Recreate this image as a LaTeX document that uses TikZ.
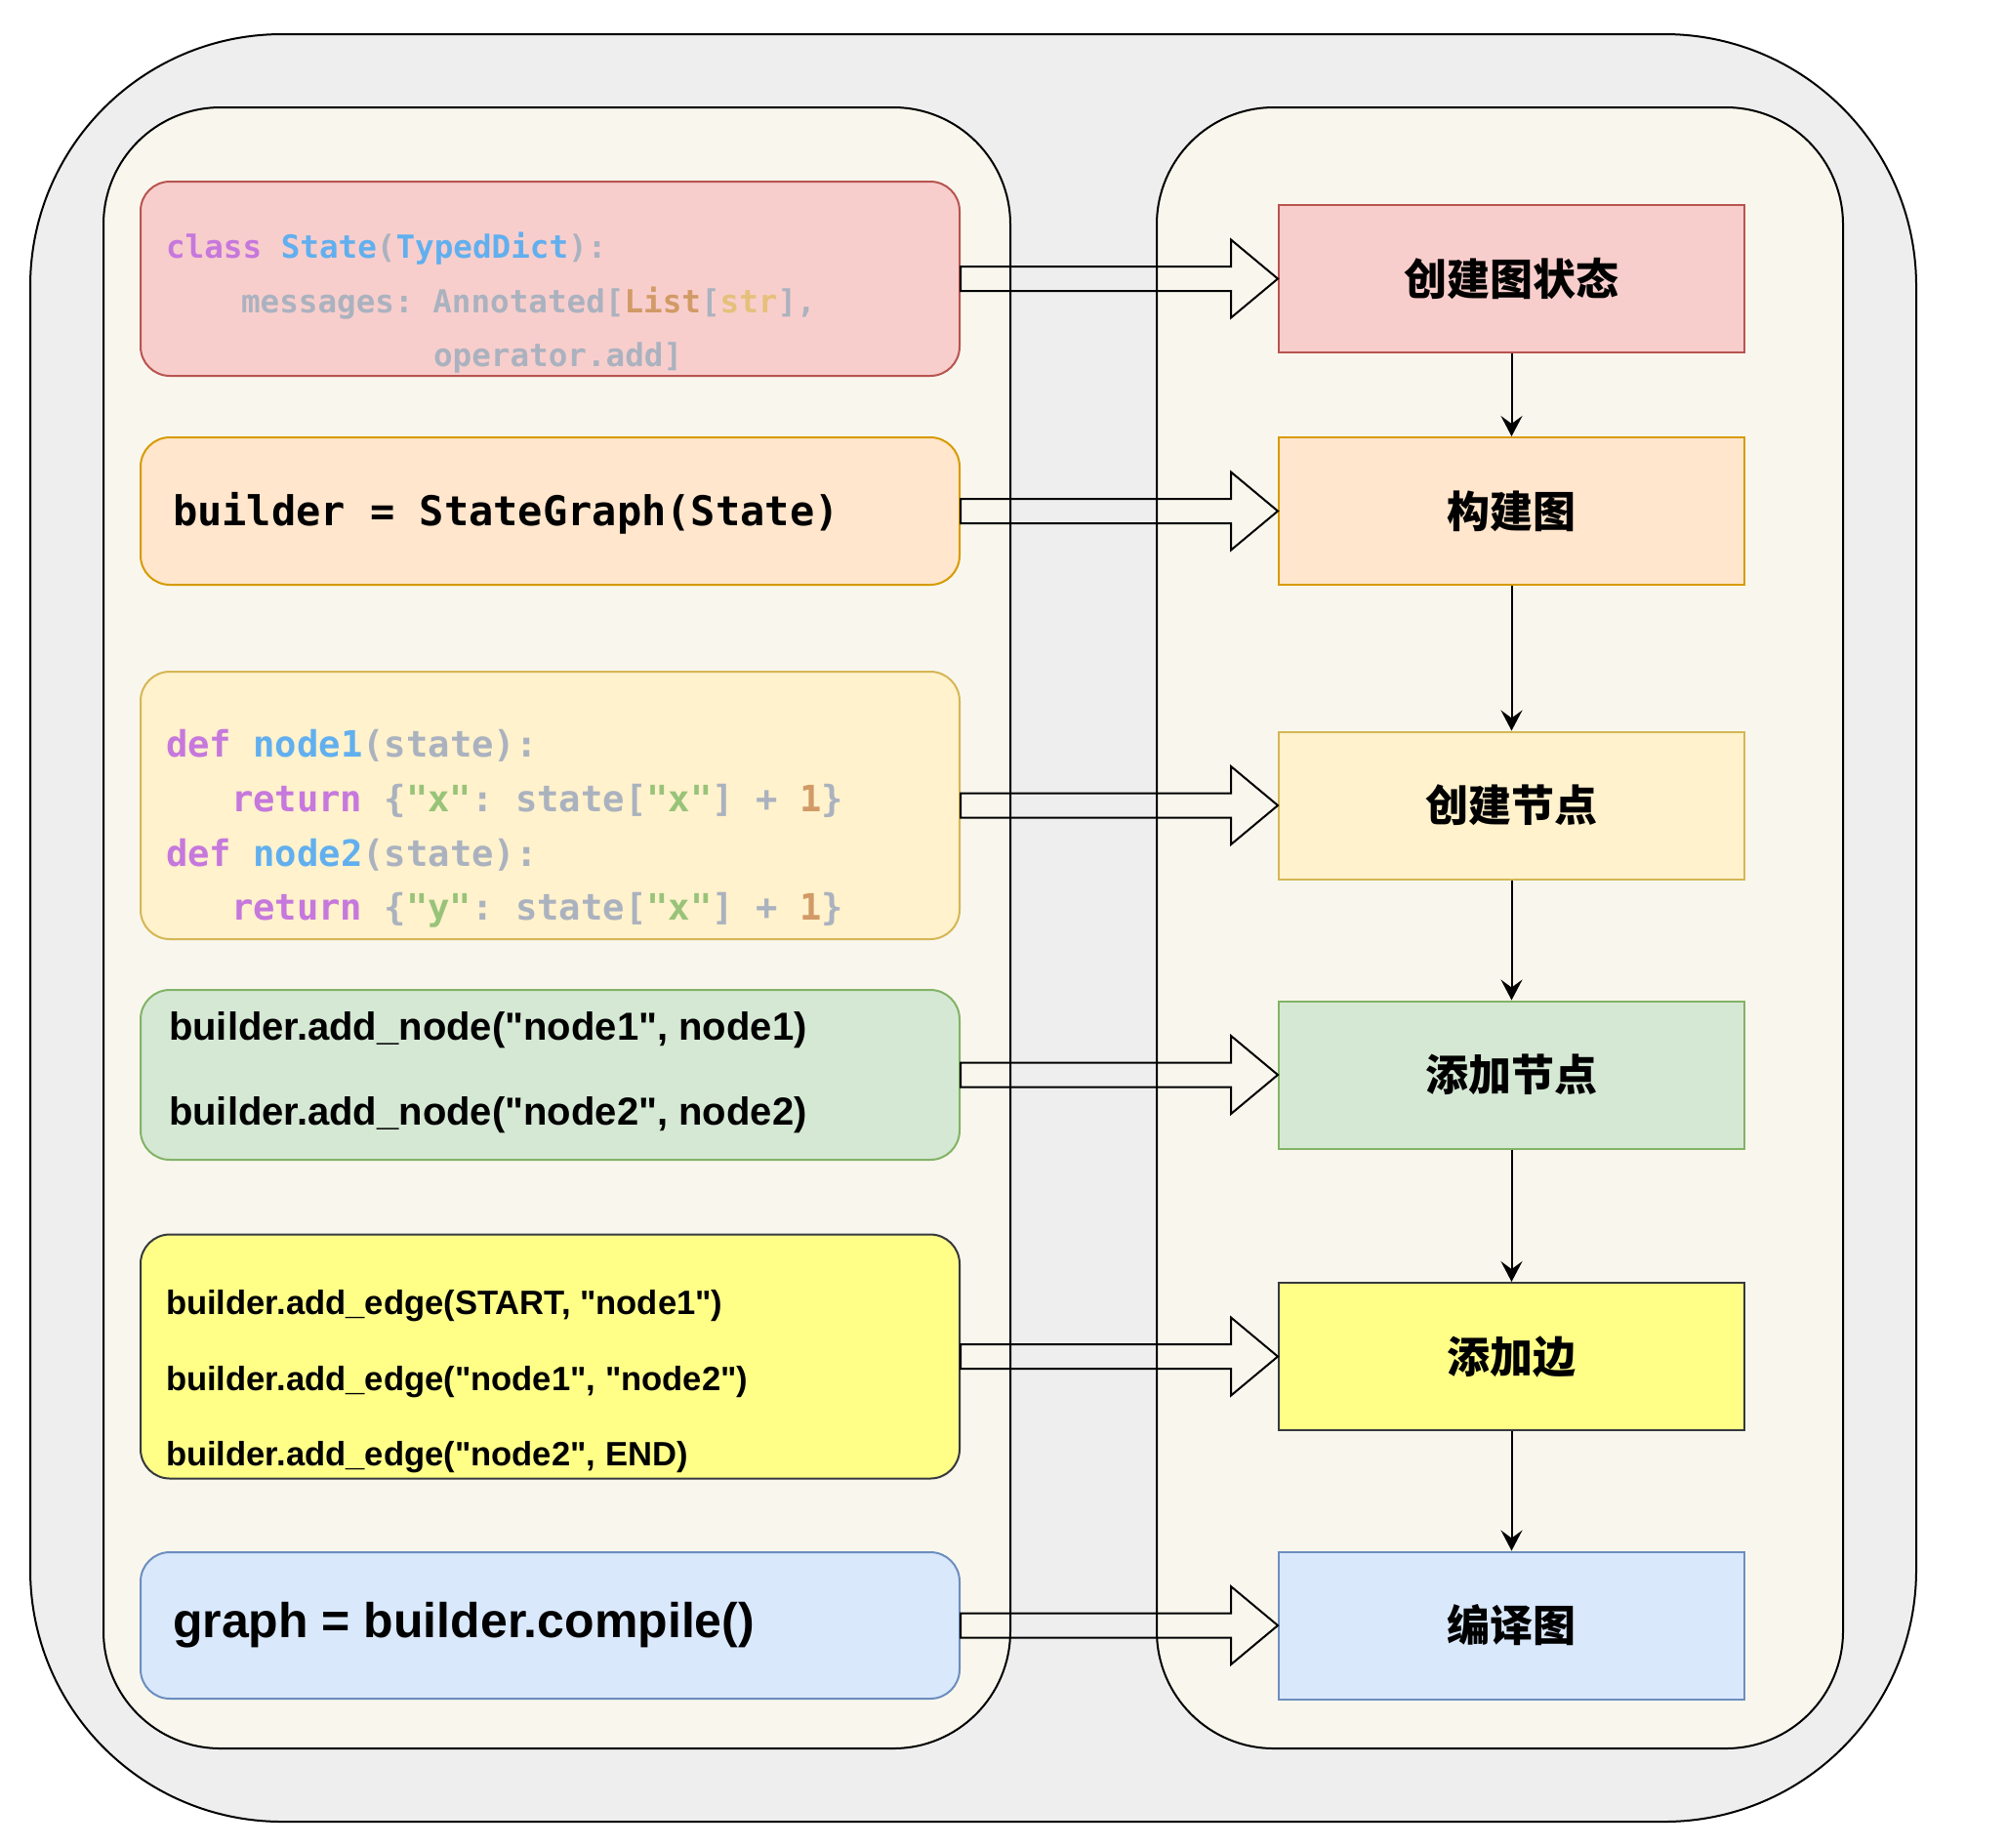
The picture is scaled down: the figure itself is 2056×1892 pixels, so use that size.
\documentclass[tikz,border=0pt]{standalone}
\usepackage{fontspec}
\newfontfamily\cjkfont{Noto Sans CJK SC}
\newfontfamily\codefont{DejaVu Sans Mono}
\newfontfamily\boldsans{Liberation Sans}
\usetikzlibrary{arrows.meta}
\frenchspacing

\definecolor{outerbg}{HTML}{EEEEEE}
\definecolor{panelbg}{HTML}{F9F7ED}
\definecolor{redfill}{HTML}{F8CECC}
\definecolor{redline}{HTML}{B85450}
\definecolor{orafill}{HTML}{FFE6CC}
\definecolor{oraline}{HTML}{D79B00}
\definecolor{ylwfill}{HTML}{FFF2CC}
\definecolor{ylwline}{HTML}{D6B656}
\definecolor{grnfill}{HTML}{D5E8D4}
\definecolor{grnline}{HTML}{82B366}
\definecolor{notefill}{HTML}{FFFF88}
\definecolor{noteline}{HTML}{36393D}
\definecolor{blufill}{HTML}{DAE8FC}
\definecolor{bluline}{HTML}{6C8EBF}
\definecolor{kwc}{HTML}{C678DD}
\definecolor{fnc}{HTML}{61AFEF}
\definecolor{gc}{HTML}{ABB2BF}
\definecolor{numc}{HTML}{D19A66}
\definecolor{typc}{HTML}{E5C07B}
\definecolor{strc}{HTML}{98C379}

\begin{document}
\begin{tikzpicture}[x=0.5pt,y=-0.5pt,line width=1pt,
  codebox/.style={draw,rounded corners=15pt,minimum width=419.5pt},
  stepbox/.style={draw,minimum width=238.5pt,minimum height=75.5pt,font=\cjkfont\bfseries\fontsize{22pt}{26pt}\selectfont},
  codeline/.style={anchor=base west,inner sep=0pt},
  bigarrow/.style={draw,line join=miter},
  flow/.style={-{Stealth[length=10.5pt,width=11pt,inset=4pt]}}]
\useasboundingbox (0,0) rectangle (2056,1892);
\draw[fill=outerbg,rounded corners=129pt] (31,35) rectangle (1963,1866);
\draw[fill=panelbg,rounded corners=60pt] (106,110) rectangle (1035,1791);
\draw[fill=panelbg,rounded corners=60pt] (1185,110) rectangle (1888,1791);
% code side
\node[codebox,fill=redfill,draw=redline,minimum height=99.5pt] (c1) at (563.5,285.5) {};
\node[codebox,fill=orafill,draw=oraline,minimum height=75.5pt] (c2) at (563.5,523.5) {};
\node[codebox,fill=ylwfill,draw=ylwline,minimum height=137pt] (c3) at (563.5,825) {};
\node[codebox,fill=grnfill,draw=grnline,minimum height=87pt] (c4) at (563.5,1101) {};
\node[codebox,fill=notefill,draw=noteline,minimum height=125pt] (c5) at (563.5,1389.5) {};
\node[codebox,fill=blufill,draw=bluline,minimum height=75pt] (c6) at (563.5,1665) {};
% step side
\node[stepbox,fill=redfill,draw=redline] (s1) at (1548.5,285.5) {创建图状态};
\node[stepbox,fill=orafill,draw=oraline] (s2) at (1548.5,523.5) {构建图};
\node[stepbox,fill=ylwfill,draw=ylwline] (s3) at (1548.5,825) {创建节点};
\node[stepbox,fill=grnfill,draw=grnline] (s4) at (1548.5,1101) {添加节点};
\node[stepbox,fill=notefill,draw=noteline] (s5) at (1548.5,1389.5) {添加边};
\node[stepbox,fill=blufill,draw=bluline] (s6) at (1548.5,1665) {编译图};
% state class
\begin{scope}[every node/.style={codeline,font=\codefont\bfseries\fontsize{16.3pt}{20pt}\selectfont,text=gc}]
\node (t1a) at (169,264) {\color{kwc}class \color{fnc}State\color{gc}(\color{fnc}TypedDict\color{gc}):};
\node (t1b) at (246,320) {messages: Annotated[\color{numc}List\color{gc}[\color{typc}str\color{gc}],};
\node (t1c) at (443,375) {operator.add]};
\end{scope}
\node[codeline,font=\codefont\bfseries\fontsize{21pt}{24pt}\selectfont] (t2) at (176,538) {builder = StateGraph(State)};
% node functions
\begin{scope}[every node/.style={codeline,font=\codefont\bfseries\fontsize{18.6pt}{22pt}\selectfont,text=gc}]
\node (t3a) at (169,775) {\color{kwc}def \color{fnc}node1\color{gc}(state):};
\node (t3b) at (236,831) {\color{kwc}return \color{gc}\{\color{strc}"x"\color{gc}: state[\color{strc}"x"\color{gc}] + \color{numc}1\color{gc}\}};
\node (t3c) at (169,887) {\color{kwc}def \color{fnc}node2\color{gc}(state):};
\node (t3d) at (236,942) {\color{kwc}return \color{gc}\{\color{strc}"y"\color{gc}: state[\color{strc}"x"\color{gc}] + \color{numc}1\color{gc}\}};
\end{scope}
\node[codeline,font=\boldsans\bfseries\fontsize{20pt}{24pt}\selectfont] (t4a) at (172,1065) {builder.add\_node("node1", node1)};
\node[codeline,font=\boldsans\bfseries\fontsize{20pt}{24pt}\selectfont] (t4b) at (172,1152) {builder.add\_node("node2", node2)};
\node[codeline,font=\boldsans\bfseries\fontsize{17.3pt}{21pt}\selectfont] (t5a) at (169,1346) {builder.add\_edge(START, "node1")};
\node[codeline,font=\boldsans\bfseries\fontsize{17.3pt}{21pt}\selectfont] (t5b) at (169,1424) {builder.add\_edge("node1", "node2")};
\node[codeline,font=\boldsans\bfseries\fontsize{17.3pt}{21pt}\selectfont] (t5c) at (169,1501) {builder.add\_edge("node2", END)};
\node[codeline,font=\boldsans\bfseries\fontsize{25pt}{30pt}\selectfont] (t6) at (176,1677) {graph = builder.compile()};
% block arrows code -> step
\draw[bigarrow] ([yshift=6.25pt]c1.east) -- ([xshift=-24pt,yshift=6.25pt]s1.west) -- ([xshift=-24pt,yshift=20pt]s1.west) -- (s1.west) -- ([xshift=-24pt,yshift=-20pt]s1.west) -- ([xshift=-24pt,yshift=-6.25pt]s1.west) -- ([yshift=-6.25pt]c1.east) -- cycle;
\draw[bigarrow] ([yshift=6.25pt]c2.east) -- ([xshift=-24pt,yshift=6.25pt]s2.west) -- ([xshift=-24pt,yshift=20pt]s2.west) -- (s2.west) -- ([xshift=-24pt,yshift=-20pt]s2.west) -- ([xshift=-24pt,yshift=-6.25pt]s2.west) -- ([yshift=-6.25pt]c2.east) -- cycle;
\draw[bigarrow] ([yshift=6.25pt]c3.east) -- ([xshift=-24pt,yshift=6.25pt]s3.west) -- ([xshift=-24pt,yshift=20pt]s3.west) -- (s3.west) -- ([xshift=-24pt,yshift=-20pt]s3.west) -- ([xshift=-24pt,yshift=-6.25pt]s3.west) -- ([yshift=-6.25pt]c3.east) -- cycle;
\draw[bigarrow] ([yshift=6.25pt]c4.east) -- ([xshift=-24pt,yshift=6.25pt]s4.west) -- ([xshift=-24pt,yshift=20pt]s4.west) -- (s4.west) -- ([xshift=-24pt,yshift=-20pt]s4.west) -- ([xshift=-24pt,yshift=-6.25pt]s4.west) -- ([yshift=-6.25pt]c4.east) -- cycle;
\draw[bigarrow] ([yshift=6.25pt]c5.east) -- ([xshift=-24pt,yshift=6.25pt]s5.west) -- ([xshift=-24pt,yshift=20pt]s5.west) -- (s5.west) -- ([xshift=-24pt,yshift=-20pt]s5.west) -- ([xshift=-24pt,yshift=-6.25pt]s5.west) -- ([yshift=-6.25pt]c5.east) -- cycle;
\draw[bigarrow] ([yshift=6.25pt]c6.east) -- ([xshift=-24pt,yshift=6.25pt]s6.west) -- ([xshift=-24pt,yshift=20pt]s6.west) -- (s6.west) -- ([xshift=-24pt,yshift=-20pt]s6.west) -- ([xshift=-24pt,yshift=-6.25pt]s6.west) -- ([yshift=-6.25pt]c6.east) -- cycle;
% step order
\draw[flow] (s1.south) -- (s2.north);
\draw[flow] (s2.south) -- (s3.north);
\draw[flow] (s3.south) -- (s4.north);
\draw[flow] (s4.south) -- (s5.north);
\draw[flow] (s5.south) -- (s6.north);
\end{tikzpicture}
\end{document}
